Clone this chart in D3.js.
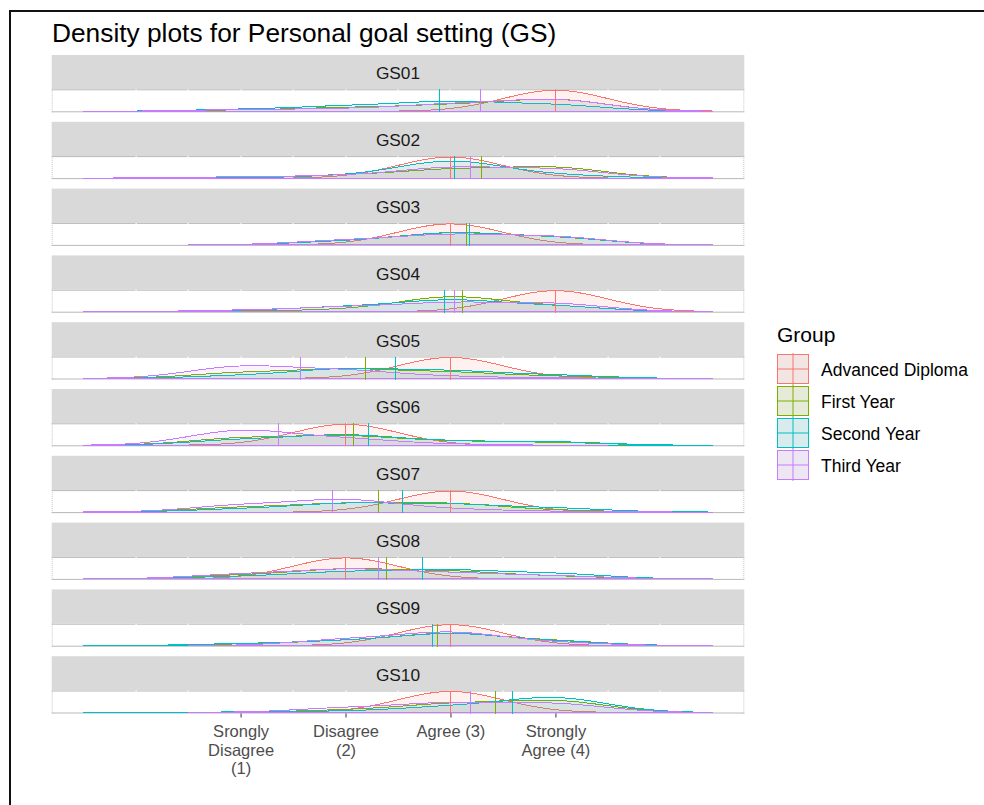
<!DOCTYPE html>
<html>
<head>
<meta charset="utf-8">
<script src="https://cdn.jsdelivr.net/npm/d3@7"></script>
<style>
  html, body { margin: 0; padding: 0; background: #fff; }
  svg { display: block; font-family: "Liberation Sans", Arial, sans-serif; }
</style>
</head>
<body>
<svg id="chart" width="984" height="805"></svg>
<script>
// ---- data ---------------------------------------------------------------
const items = ["GS01", "GS02", "GS03", "GS04", "GS05", "GS06", "GS07", "GS08", "GS09", "GS10"];
const groups = ["Advanced Diploma", "First Year", "Second Year", "Third Year"];
const groupColors = ["#F8766D", "#7CAE00", "#00BFC4", "#C77CFF"];
const levels = [1, 2, 3, 4];
const levelLabels = [
  ["Srongly", "Disagree", "(1)"],
  ["Disagree", "(2)"],
  ["Agree (3)"],
  ["Strongly", "Agree (4)"]
];
const gridBreaks = [0, 0.5, 1, 1.5, 2, 2.5, 3, 3.5, 4, 4.5, 5];

// share of responses at levels 1..4, one row per item
const advancedDiploma = [
  [0, 0, 0, 1], [0, 0, 1, 0], [0, 0, 1, 0], [0, 0, 0, 1], [0, 0, 1, 0],
  [0, 1, 0, 0], [0, 0, 1, 0], [0, 1, 0, 0], [0, 0, 1, 0], [0, 0, 1, 0]
];
const firstYear = [
  [0.05, 0.15, 0.26, 0.54], [0.03, 0.12, 0.37, 0.48], [0, 0.17, 0.51, 0.32],
  [0.02, 0.08, 0.67, 0.23], [0.25, 0.40, 0.26, 0.09], [0.32, 0.40, 0.16, 0.12],
  [0.20, 0.36, 0.37, 0.07], [0.15, 0.42, 0.32, 0.11], [0.06, 0.20, 0.54, 0.20],
  [0, 0.10, 0.37, 0.53]
];
const secondYear = [
  [0.08, 0.22, 0.42, 0.28], [0, 0.09, 0.78, 0.13], [0, 0.15, 0.52, 0.33],
  [0.05, 0.20, 0.51, 0.24], [0.12, 0.42, 0.32, 0.14], [0.24, 0.45, 0.16, 0.15],
  [0.13, 0.37, 0.33, 0.17], [0.10, 0.30, 0.37, 0.23], [0.08, 0.20, 0.53, 0.19],
  [0.02, 0.05, 0.25, 0.68]
];
const thirdYear = [
  [0.07, 0.10, 0.30, 0.53], [0.05, 0.10, 0.46, 0.39], [0, 0.20, 0.44, 0.36],
  [0.06, 0.20, 0.38, 0.36], [0.55, 0.35, 0.08, 0.02], [0.68, 0.28, 0.04, 0],
  [0.30, 0.55, 0.12, 0.03], [0.20, 0.42, 0.25, 0.13], [0, 0.27, 0.60, 0.13],
  [0, 0.20, 0.41, 0.39]
];
// item/group cells that contain unanswered questions: their mean is NA, so no mean line
const missingAnswers = [
  ["GS01", "First Year"],
  ["GS03", "Third Year"],
  ["GS09", "Third Year"]
];
const bandwidth = 0.5;

// ---- density estimate (gaussian kernel, 512 points, cut at 3 bw) ----------
const shares = [advancedDiploma, firstYear, secondYear, thirdYear];
const gauss = z => Math.exp(-z * z / 2) / Math.sqrt(2 * Math.PI);

function kde(p) {
  const used = levels.filter((k, j) => p[j] > 0);
  const lo = d3.min(used) - 3 * bandwidth;
  const hi = d3.max(used) + 3 * bandwidth;
  return d3.range(512).map(i => {
    const t = lo + (hi - lo) * i / 511;
    return [t, d3.sum(levels, (k, j) => p[j] * gauss((t - k) / bandwidth) / bandwidth)];
  });
}
const isMissing = (item, group) => missingAnswers.some(m => m[0] === item && m[1] === group);
const meanOf = p => d3.sum(levels, (k, j) => k * p[j]);

const densities = items.map((it, i) => groups.map((g, gi) => kde(shares[gi][i])));
const means = items.map((it, i) => groups.map((g, gi) =>
  isMissing(it, g) ? null : meanOf(shares[gi][i])));
const maxDensity = d3.max(densities.flat(), c => d3.max(c, d => d[1]));

// ---- layout --------------------------------------------------------------
const svg = d3.select("#chart");

// outer frame
svg.append("rect")
  .attr("x", 10).attr("y", 11).attr("width", 1200).attr("height", 1200)
  .attr("fill", "none").attr("stroke", "#111").attr("stroke-width", 2);

svg.append("text")
  .attr("x", 52).attr("y", 42)
  .attr("font-size", 26.3).attr("fill", "#000")
  .text("Density plots for Personal goal setting (GS)");

const panelLeft = 51.7, panelRight = 744.3;
const x = d3.scaleLinear().domain([-0.8, 5.8]).range([panelLeft, panelRight]);
const facet = d3.scaleBand().domain(items).range([55, 713.5])
  .paddingInner(9.5 / 66.8).paddingOuter(0);
const stripH = 34.3;
const color = d3.scaleOrdinal().domain(groups).range(groupColors);

items.forEach((item, i) => {
  const top = facet(item);
  const pTop = top + stripH;
  const pBot = top + facet.bandwidth();
  const y = d3.scaleLinear().domain([-0.05 * maxDensity, 1.05 * maxDensity]).range([pBot, pTop]);
  const g = svg.append("g");

  // strip
  g.append("rect").attr("x", panelLeft).attr("y", top)
    .attr("width", panelRight - panelLeft).attr("height", stripH).attr("fill", "#D9D9D9");
  g.append("text")
    .attr("x", (panelLeft + panelRight) / 2).attr("y", top + stripH / 2 + 7.3)
    .attr("text-anchor", "middle").attr("font-size", 17.3).attr("fill", "#1A1A1A")
    .text(item);

  // panel frame
  g.append("rect").attr("x", panelLeft).attr("y", pTop)
    .attr("width", panelRight - panelLeft).attr("height", pBot - pTop).attr("fill", "#fff");
  g.append("line").attr("x1", panelLeft).attr("x2", panelRight)
    .attr("y1", pTop + 0.5).attr("y2", pTop + 0.5).attr("stroke", "#B8B8B8");
  g.selectAll("rect.grid").data(gridBreaks).join("rect").attr("class", "grid")
    .attr("x", d => Math.round(x(d)) - 0.5).attr("y", pTop).attr("width", 1.2).attr("height", 1.5)
    .attr("fill", "#fff");
  g.append("line").attr("x1", panelLeft).attr("x2", panelRight)
    .attr("y1", pBot - 0.5).attr("y2", pBot - 0.5).attr("stroke", "#B8B8B8");
  [panelLeft + 0.5, panelRight - 0.5].forEach(px => {
    g.append("line").attr("x1", px).attr("x2", px).attr("y1", pTop).attr("y2", pBot)
      .attr("stroke", "#C4C4C4").attr("stroke-dasharray", "1,1");
  });

  // densities
  const area = d3.area().x(d => x(d[0])).y0(y(0)).y1(d => y(d[1]));
  g.selectAll("path.dens").data(groups).join("path").attr("class", "dens")
    .attr("d", (gname, gi) => area(densities[i][gi]))
    .attr("fill", gname => color(gname)).attr("fill-opacity", 0.1)
    .attr("stroke", gname => color(gname)).attr("stroke-width", 1)
    .attr("shape-rendering", "crispEdges");

  // group means
  const withMean = groups.map((gname, gi) => ({ gname, m: means[i][gi] })).filter(d => d.m !== null);
  g.selectAll("line.mean").data(withMean).join("line").attr("class", "mean")
    .attr("x1", d => x(d.m)).attr("x2", d => x(d.m))
    .attr("y1", pTop).attr("y2", pBot)
    .attr("stroke", d => color(d.gname)).attr("stroke-width", 1)
    .attr("shape-rendering", "crispEdges");
});

// x axis under the last panel
const axisY = facet(items[items.length - 1]) + facet.bandwidth();
const axis = svg.append("g").attr("transform", `translate(0,${axisY})`)
  .call(d3.axisBottom(x).tickValues(levels).tickSize(4).tickSizeOuter(0).tickFormat(""));
axis.select(".domain").remove();
axis.selectAll(".tick line").attr("stroke", "#333");
axis.selectAll(".tick").each(function (d, i) {
  const t = d3.select(this).append("text")
    .attr("text-anchor", "middle").attr("fill", "#4D4D4D")
    .attr("font-size", 16.5).attr("font-family", "Liberation Sans, Arial, sans-serif");
  levelLabels[i].forEach((s, j) => t.append("tspan").attr("x", 0).attr("y", 23.6 + j * 18.5).text(s));
});

// legend
const legend = svg.append("g");
legend.append("text").attr("x", 777).attr("y", 341.7)
  .attr("font-size", 21).attr("fill", "#000").text("Group");
const keyX = 777, keyW = 32, keyH = 30, keyTop = 354, keyStep = 32;
groups.forEach((gname, gi) => {
  const ky = keyTop + gi * keyStep;
  legend.append("rect").attr("x", keyX).attr("y", ky).attr("width", keyW).attr("height", keyH)
    .attr("fill", "#F2F2F2");
  legend.append("rect").attr("x", keyX + 0.5).attr("y", ky + 0.5).attr("width", keyW - 1).attr("height", keyH - 1)
    .attr("fill", color(gname)).attr("fill-opacity", 0.1)
    .attr("stroke", color(gname)).attr("stroke-width", 1);
  legend.append("line").attr("x1", keyX).attr("x2", keyX + keyW)
    .attr("y1", ky + keyH / 2).attr("y2", ky + keyH / 2).attr("stroke", color(gname));
  legend.append("line").attr("x1", keyX + keyW / 2).attr("x2", keyX + keyW / 2)
    .attr("y1", ky - 1).attr("y2", ky + keyH + 1).attr("stroke", color(gname));
  legend.append("text").attr("x", 821).attr("y", ky + keyH / 2 + 6.8)
    .attr("font-size", 17.5).attr("fill", "#000").text(gname);
});
</script>
</body>
</html>
